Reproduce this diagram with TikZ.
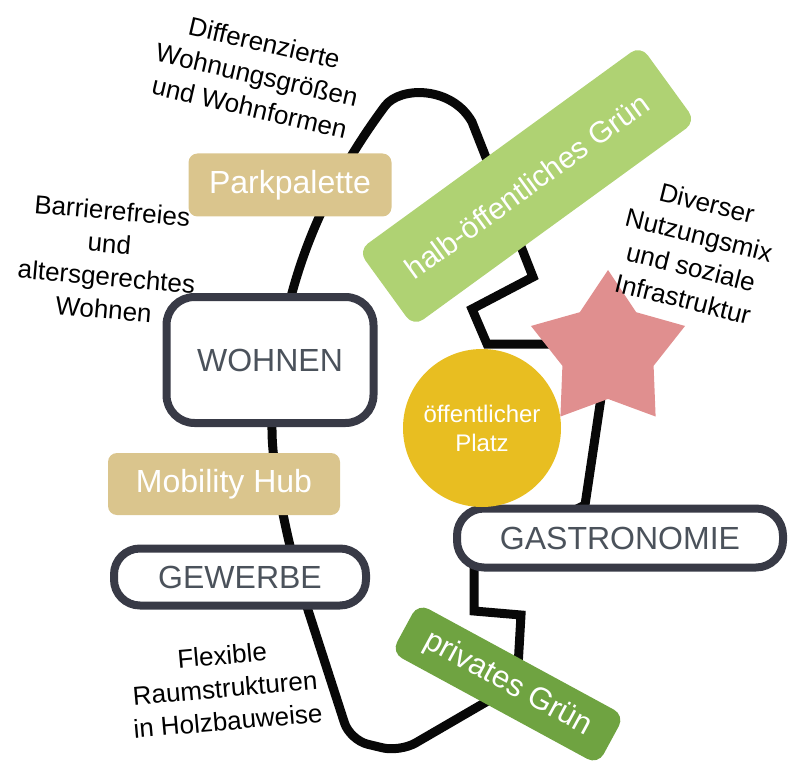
\documentclass[tikz,border=0pt]{standalone}
\usepackage{fontspec}
\setmainfont{Liberation Sans}
\usetikzlibrary{shapes.geometric,backgrounds}

\definecolor{boxline}{HTML}{383A46}
\definecolor{boxtext}{HTML}{4B525B}
\definecolor{parktan}{HTML}{DAC58D}
\definecolor{halbgreen}{HTML}{AFD273}
\definecolor{privgreen}{HTML}{6FA341}
\definecolor{platzyellow}{HTML}{E8BE21}
\definecolor{starpink}{HTML}{E08F8F}

\tikzset{
  mainbox/.style={draw=boxline, line width=8pt, fill=white, text=boxtext,
    font=\fontsize{32}{38}\selectfont, inner sep=0pt},
  tagbox/.style={fill=parktan, text=white, rounded corners=9pt,
    font=\fontsize{32}{38}\selectfont, inner sep=0pt},
  greenbox/.style={text=white, rounded corners=12pt,
    font=\fontsize{31}{37}\selectfont, inner sep=0pt},
  note/.style={align=center, font=\fontsize{26}{33}\selectfont, inner sep=0pt},
  loopline/.style={line width=9pt, black!97}
}

\begin{document}
\begin{tikzpicture}[x=1pt, y=-1pt]
  \useasboundingbox (0,0) rectangle (790,762);

  % boxes on the loop
  \node[mainbox, rounded corners=28pt, minimum width=207pt, minimum height=126pt] (wohnen) at (270,360) {WOHNEN};
  \node[mainbox, rounded corners=26pt, minimum width=252pt, minimum height=57pt] (gewerbe) at (240,577) {GEWERBE};
  \node[mainbox, rounded corners=27pt, minimum width=326pt, minimum height=59pt] (gastro) at (620,538) {GASTRONOMIE};
  \node[tagbox, minimum width=203pt, minimum height=63pt] (parkpalette) at (290,185) {Parkpalette};
  \node[tagbox, minimum width=232pt, minimum height=62pt] (mobility) at (224,484) {Mobility Hub};

  % green areas
  \node[greenbox, fill=halbgreen, rotate=36, minimum width=349pt, minimum height=94pt,
    font=\fontsize{30}{36}\selectfont] (halbgruen) at (527,186) {halb-öffentliches Grün};
  \node[greenbox, fill=privgreen, rotate=-28.5, minimum width=235pt, minimum height=56pt] (privgruen) at (508,684) {privates Grün};

  % platz and star
  \node[circle, fill=platzyellow, minimum size=158pt, inner sep=0pt, align=center, text=white,
    font=\fontsize{24}{29}\selectfont] (platz) at (482,428) {öffentlicher\\Platz};
  \node[star, star points=5, star point ratio=1.69, fill=starpink, minimum size=162pt, inner sep=0pt] (star) at (608,351) {};

  % notes
  \node[note, rotate=-13] (diff) at (257,75) {Differenzierte\\Wohnungsgrößen\\und Wohnformen};
  \node[note, rotate=-5] (barriere) at (108,260) {Barrierefreies\\und\\altersgerechtes\\Wohnen};
  \node[note, rotate=-14] (divers) at (695,251) {Diverser\\Nutzungsmix\\und soziale\\Infrastruktur};
  \node[note, rotate=5] (flex) at (225,688) {Flexible\\Raumstrukturen\\in Holzbauweise};

  % the loop
  \begin{scope}[on background layer]
    \draw[loopline] (wohnen.center) -- (292,293)
      .. controls (305,245) and (330,180) .. (385,106)
      .. controls (400,86) and (452,86) .. (472,122)
      -- (533,277) -- (472,309) -- (487,344) -- (560,344) -- (star.center)
      -- (585,505) -- (474,560) -- (474,611) -- (521,615)
      [rounded corners=18pt] -- (517,684) -- (400,752) -- (350,740) -- (308,610) [sharp corners]
      .. controls (296,573) and (272,480) .. (272,430) -- (wohnen.center);
  \end{scope}
\end{tikzpicture}
\end{document}
